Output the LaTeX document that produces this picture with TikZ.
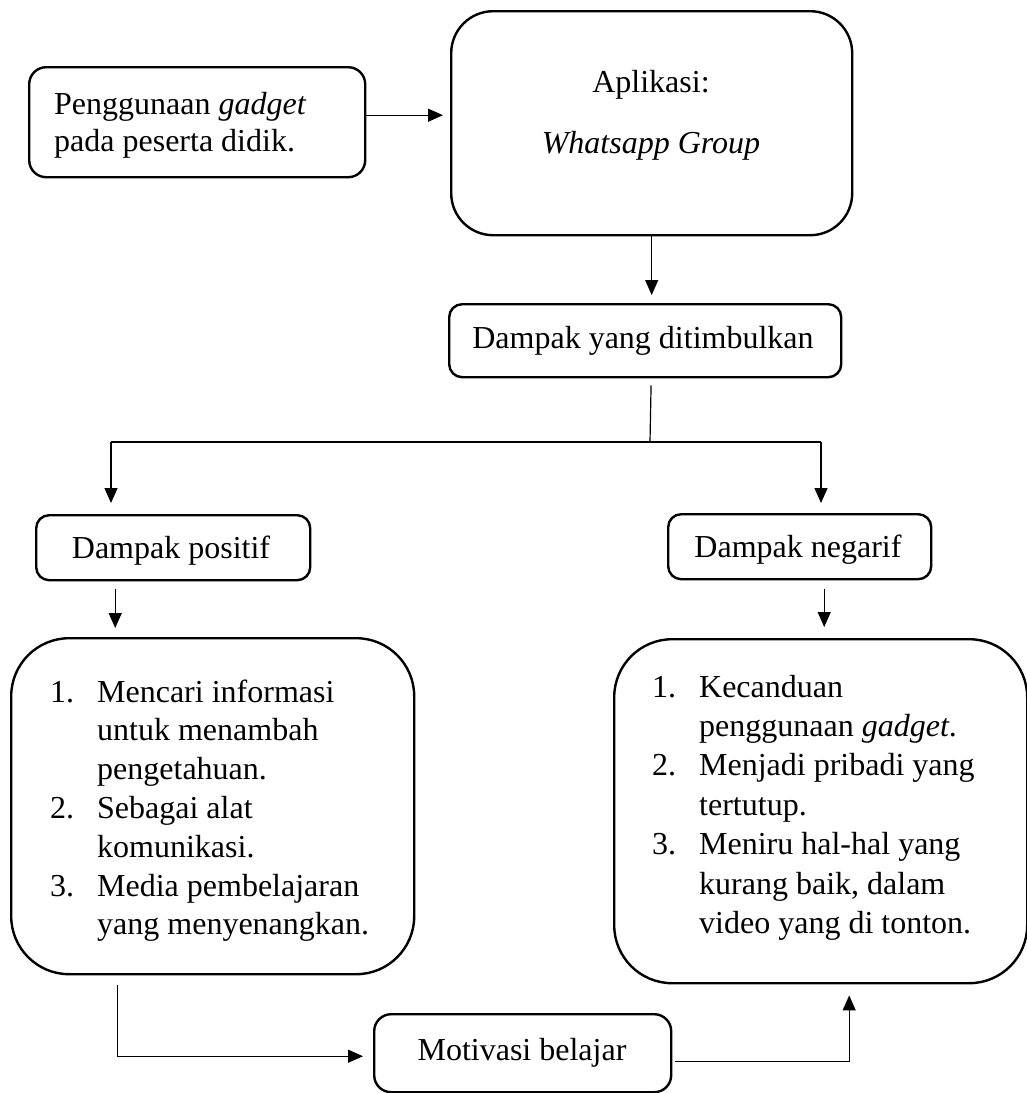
\documentclass[tikz,border=0pt]{standalone}
\usepackage{fontspec}
\setmainfont{Liberation Serif}
\usetikzlibrary{arrows.meta}
\newcommand{\plainlines}[2]{\vtop{\baselineskip=#1\lineskiplimit=-100pt\lineskip=0pt\halign{##\hfil\cr#2\crcr}}}
\newcommand{\centerlines}[2]{\vtop{\baselineskip=#1\lineskiplimit=-100pt\lineskip=0pt\halign{\hfil##\hfil\cr#2\crcr}}}
\newcommand{\numlines}[2]{\vtop{\baselineskip=#1\lineskiplimit=-100pt\lineskip=0pt\halign{\hbox to 47pt{##\hfil}&##\hfil\cr#2\crcr}}}
\tikzset{
  boxbase/.style={draw, line width=2.4pt, inner sep=0pt, anchor=north west},
  boxS/.style={boxbase, rounded corners=13pt},
  boxM/.style={boxbase, rounded corners=17pt},
  boxL/.style={boxbase, rounded corners=42pt},
  boxXL/.style={boxbase, rounded corners=58pt},
  txt/.style={inner sep=0pt, font=\fontsize{32}{39}\selectfont},
  conn/.style={line width=1.2pt},
  arr/.style={conn, -{Triangle[length=15pt,width=13pt]}},
}
\begin{document}
\begin{tikzpicture}[x=1pt,y=-1pt]
\useasboundingbox (0,0) rectangle (1027,1093);
% boxes
\node[boxM, minimum width=336pt, minimum height=110pt] (use) at (28,66) {};
\node[boxL, minimum width=401pt, minimum height=224pt] (app) at (450,10) {};
\node[boxS, minimum width=392pt, minimum height=73pt] (imp) at (448,303) {};
\node[boxS, minimum width=274pt, minimum height=65pt] (pos) at (35,514) {};
\node[boxS, minimum width=263pt, minimum height=65pt] (neg) at (667,513) {};
\node[boxXL, minimum width=403pt, minimum height=336pt] (lbox) at (10,637) {};
\node[boxXL, minimum width=413pt, minimum height=344pt] (rbox) at (613,638) {};
\node[boxM, minimum width=297pt, minimum height=78pt] (mot) at (373,1013) {};
% texts
\node[txt, anchor=base west] (usetxt) at (54,114) {\plainlines{37pt}{Penggunaan \textit{gadget}\cr pada peserta didik.}};
\node[txt, anchor=base] (apptxt) at (651,92) {\centerlines{61pt}{Aplikasi:\cr \textit{Whatsapp Group}}};
\node[txt, anchor=base] (imptxt) at (643,348) {Dampak yang ditimbulkan};
\node[txt, anchor=base] (postxt) at (171,558) {Dampak positif};
\node[txt, anchor=base] (negtxt) at (798,557) {Dampak negarif};
\node[txt, anchor=base west] (ltxt) at (50,702) {\numlines{38.8pt}{1.&Mencari informasi\cr &untuk menambah\cr &pengetahuan.\cr 2.&Sebagai alat\cr &komunikasi.\cr 3.&Media pembelajaran\cr &yang menyenangkan.}};
\node[txt, anchor=base west] (rtxt) at (652,697) {\numlines{39.4pt}{1.&Kecanduan\cr &penggunaan \textit{gadget}.\cr 2.&Menjadi pribadi yang\cr &tertutup.\cr 3.&Meniru hal-hal yang\cr &kurang baik, dalam\cr &video yang di tonton.}};
\node[txt, anchor=base] (mottxt) at (522,1060) {Motivasi belajar};
% connectors
\coordinate (jn) at (650,442);
\coordinate (jl) at (111,442);
\coordinate (jr) at (821,442);
\draw[arr, shorten >=7pt] ([yshift=7pt]use.east) -- ([yshift=7pt]use.east -| app.west);
\draw[arr, shorten >=8pt] (app.south) -- (app.south |- imp.north);
\draw[conn, shorten <=7pt] ([xshift=6pt]imp.south) -- (jn);
\draw[conn] (jl) -- (jr);
\draw[arr, shorten >=11pt] (jl) -- (jl |- pos.north);
\draw[arr, shorten >=10pt] (jr) -- (jr |- neg.north);
\draw[arr, shorten <=8pt, shorten >=9pt] ([xshift=-58pt]pos.south) -- ([xshift=-58pt]pos.south |- lbox.north);
\draw[arr, shorten <=9pt, shorten >=11pt] ([xshift=24.5pt]neg.south) -- ([xshift=24.5pt]neg.south |- rbox.north);
\draw[arr, shorten <=10pt, shorten >=10pt] ([xshift=-95.5pt]lbox.south) |- ([yshift=-3pt]mot.west);
\draw[arr, shorten <=3pt, shorten >=11pt] ([yshift=-8pt]mot.east) -| ([xshift=28.5pt]rbox.south);
\end{tikzpicture}
\end{document}
